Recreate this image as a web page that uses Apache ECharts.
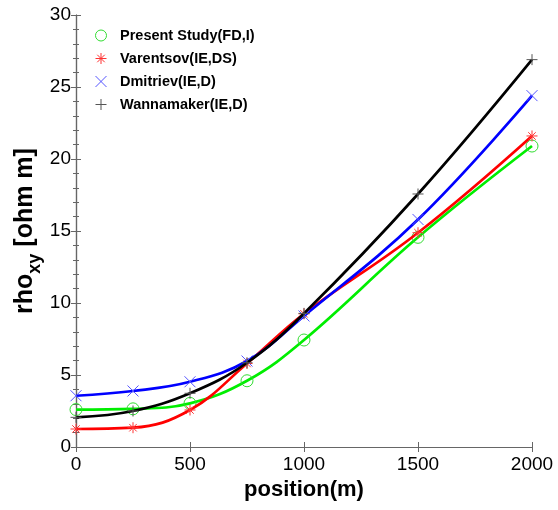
<!DOCTYPE html>
<html>
<head>
<meta charset="utf-8">
<script src="https://cdn.jsdelivr.net/npm/echarts@6/dist/echarts.min.js"></script>
<style>html,body{margin:0;padding:0;background:#fff}#c{width:558px;height:510px}</style>
</head>
<body>
<div id="c"></div>
<script>
const positions = [0, 250, 500, 750, 1000, 1500, 2000];
const presentStudy = [2.6, 2.65, 3.03, 4.6, 7.43, 14.56, 20.9];
const varentsov = [1.25, 1.34, 2.57, 5.8, 9.25, 14.88, 21.6];
const dmitriev = [3.56, 3.89, 4.53, 5.97, 9.1, 15.8, 24.4];
const wannamaker = [2.06, 2.5, 3.73, 5.85, 9.28, 17.57, 26.9];
const seriesNames = ['Present Study(FD,I)', 'Varentsov(IE,DS)', 'Dmitriev(IE,D)', 'Wannamaker(IE,D)'];
const lineColors = ['#00ee00', '#ff0000', '#0000ff', '#000000'];
const markerColors = ['#33dd33', '#ff3333', '#5555ff', '#555555'];
const yTicks = [0, 5, 10, 15, 20, 25, 30];
const xTicks = [0, 500, 1000, 1500, 2000];

const symbols = [
  'circle',
  'path://M0,5L10,5M5,0L5,10M1.6,1.6L8.4,8.4M1.6,8.4L8.4,1.6',
  'path://M0,0L10,10M0,10L10,0',
  'path://M5,0L5,10M0,5L10,5'
];
const values = [presentStudy, varentsov, dmitriev, wannamaker];
const FONT = 'Liberation Sans, Arial, sans-serif';

const chart = echarts.init(document.getElementById('c'));
const series = seriesNames.map((n, i) => ({
  name: n,
  type: 'line',
  data: positions.map((p, j) => [p, values[i][j]]),
  smooth: 0.4,
  symbol: symbols[i],
  symbolSize: i === 0 ? 12 : 11,
  showAllSymbol: true,
  lineStyle: { color: lineColors[i], width: 2.7 },
  itemStyle: { color: 'transparent', borderColor: markerColors[i], borderWidth: 1 },
  emphasis: { disabled: true },
  z: 2 + i
}));

const axisLine = { show: true, lineStyle: { color: '#666', width: 1.2 } };
chart.setOption({
  animation: false,
  backgroundColor: '#fff',
  grid: { left: 76, right: 26, top: 15, bottom: 63, containLabel: false },
  legend: {
    left: 90, top: 23, orient: 'vertical',
    itemWidth: 28, itemHeight: 11, itemGap: 8,
    data: seriesNames.map((n, i) => ({
      name: n, icon: symbols[i],
      itemStyle: { color: 'transparent', borderColor: markerColors[i], borderWidth: 1 }
    })),
    textStyle: { fontFamily: FONT, fontWeight: 'bold', fontSize: 14.5, color: '#000' }
  },
  xAxis: [{
    type: 'value', min: 0, max: 2000, interval: 500,
    name: 'position(m)', nameLocation: 'middle', nameGap: 32, nameMoveOverlap: false,
    nameTextStyle: { fontFamily: FONT, fontWeight: 'bold', fontSize: 22, color: '#000' },
    axisLine: axisLine,
    axisTick: { show: true, inside: true, length: 5, lineStyle: { color: '#666' } },
    axisLabel: { fontFamily: FONT, fontSize: 19, color: '#000', margin: 8,
      formatter: v => xTicks.includes(v) ? String(v) : '' },
    splitLine: { show: false }
  }, {
    type: 'value', min: 0, max: 2000, interval: 500, position: 'top',
    axisLine: axisLine,
    axisTick: { show: true, inside: true, length: 5, lineStyle: { color: '#666' } },
    axisLabel: { show: false }, splitLine: { show: false }
  }],
  yAxis: [{
    type: 'value', min: 0, max: 30, interval: 5,
    name: '{a|rho}{b|xy}{a| [ohm m]}', nameLocation: 'middle', nameGap: 32, nameRotate: 90,
    nameMoveOverlap: false,
    nameTextStyle: { rich: {
      a: { fontFamily: FONT, fontWeight: 'bold', fontSize: 25, color: '#000', lineHeight: 31, verticalAlign: 'top' },
      b: { fontFamily: FONT, fontWeight: 'bold', fontSize: 18, color: '#000', lineHeight: 31, verticalAlign: 'bottom' }
    } },
    axisLine: axisLine,
    axisTick: { show: true, inside: true, length: 5, lineStyle: { color: '#666' } },
    minorTick: { show: true, splitNumber: 5, length: 3, lineStyle: { color: '#666' } },
    axisLabel: { fontFamily: FONT, fontSize: 19, color: '#000', margin: 5,
      formatter: v => yTicks.includes(v) ? String(v) : '' },
    splitLine: { show: false }
  }, {
    type: 'value', min: 0, max: 30, interval: 5, position: 'right',
    axisLine: axisLine,
    axisTick: { show: true, inside: true, length: 5, lineStyle: { color: '#666' } },
    minorTick: { show: true, splitNumber: 5, length: 3, lineStyle: { color: '#666' } },
    axisLabel: { show: false }, splitLine: { show: false }
  }],
  series: series
});
</script>
</body>
</html>
